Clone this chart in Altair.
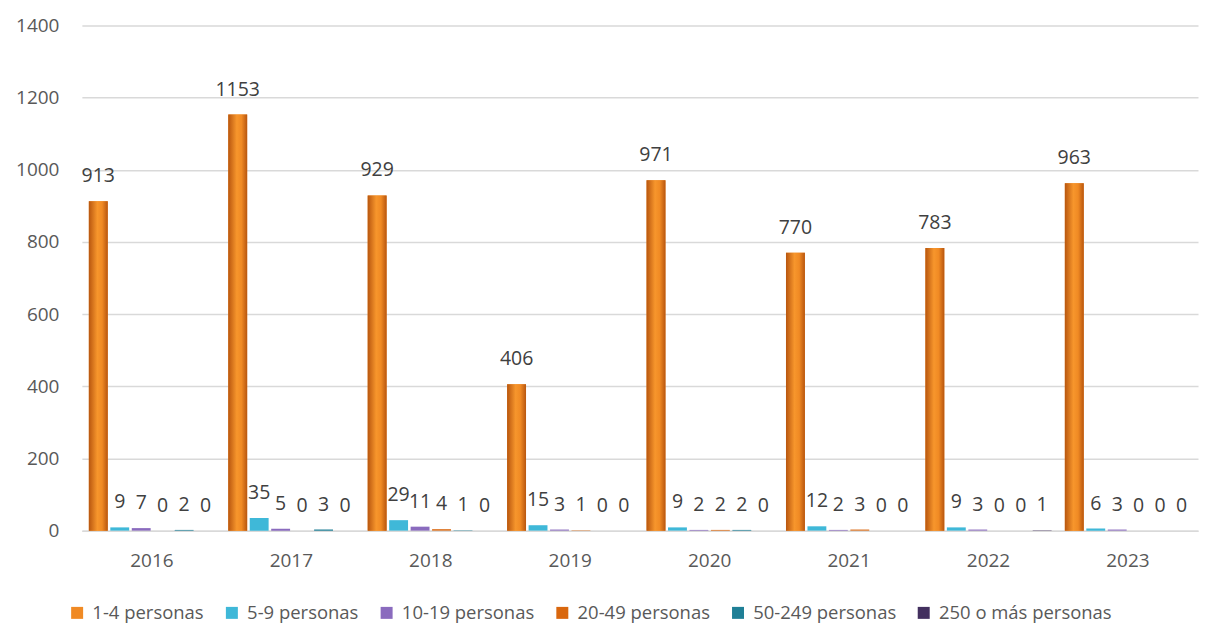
import altair as alt
import pandas as pd

years = ["2016", "2017", "2018", "2019", "2020", "2021", "2022", "2023"]
series = ["1-4 personas", "5-9 personas", "10-19 personas", "20-49 personas",
          "50-249 personas", "250 o más personas"]
colors = ["#F08A24", "#3FB8D8", "#8A6BBE", "#D9670E", "#1F7F96", "#43305F"]

v_1_4 = [913, 1153, 929, 406, 971, 770, 783, 963]
v_5_9 = [9, 35, 29, 15, 9, 12, 9, 6]
v_10_19 = [7, 5, 11, 3, 2, 2, 3, 3]
v_20_49 = [0, 0, 4, 1, 2, 3, 0, 0]
v_50_249 = [2, 3, 1, 0, 2, 0, 0, 0]
v_250 = [0, 0, 0, 0, 0, 0, 1, 0]

vals = [v_1_4, v_5_9, v_10_19, v_20_49, v_50_249, v_250]
rows = []
for s, vs in zip(series, vals):
    for y, v in zip(years, vs):
        rows.append({"year": y, "series": s, "value": v})
df = pd.DataFrame(rows)

FONT = "Open Sans"

x_enc = alt.X("year:N", sort=years, title=None,
              scale=alt.Scale(paddingInner=0.095, paddingOuter=0.05),
              axis=alt.Axis(labelAngle=0, labelFontSize=19, labelColor="#595959",
                            labelFont=FONT, ticks=False, domainColor="#D9D9D9",
                            domainWidth=1.5, labelPadding=21))
xo_enc = alt.XOffset("series:N", sort=series,
                     scale=alt.Scale(paddingInner=0.12))
y_enc = alt.Y("value:Q", title=None,
              scale=alt.Scale(domain=[0, 1400]),
              axis=alt.Axis(values=list(range(0, 1401, 200)), format="d",
                            labelFontSize=19,
                            labelColor="#595959", labelFont=FONT, ticks=False,
                            domain=False, gridColor="#D9D9D9", gridWidth=1.5,
                            labelPadding=23))

base = alt.Chart(df)

bars = base.mark_bar().encode(
    x=x_enc, xOffset=xo_enc, y=y_enc,
    color=alt.Color("series:N", sort=series,
                    scale=alt.Scale(domain=series, range=colors),
                    legend=alt.Legend(title=None, orient="none", direction="horizontal",
                                      legendX=-14, legendY=579,
                                      symbolType="square", symbolSize=144,
                                      labelFontSize=18.5, labelFont=FONT, labelLimit=0,
                                      labelColor="#595959", columnPadding=18,
                                      labelOffset=6,
                                      symbolStrokeWidth=0)),
)

grad = alt.LinearGradient(
    gradient="linear", x1=0, x2=1, y1=0, y2=0,
    stops=[alt.GradientStop(color="#B8560F", offset=0),
           alt.GradientStop(color="#F7962C", offset=0.45),
           alt.GradientStop(color="#F08A24", offset=0.7),
           alt.GradientStop(color="#B8560F", offset=1)])

orange = base.transform_filter(alt.datum.series == series[0]).mark_bar(color=grad).encode(
    x=x_enc, xOffset=xo_enc, y=y_enc)

labels = base.mark_text(dy=-25, fontSize=19.5, font=FONT, color="#404040",
                        baseline="middle").encode(
    x=x_enc, xOffset=xo_enc, y=y_enc, text=alt.Text("value:Q"))

chart = alt.layer(bars, orange, labels).properties(
    width=1118, height=506,
    padding={"top": 8, "left": 7, "right": 2, "bottom": 0},
).configure_view(stroke=None)

chart.save("out.html", embed_options={"renderer": "svg", "actions": False})
